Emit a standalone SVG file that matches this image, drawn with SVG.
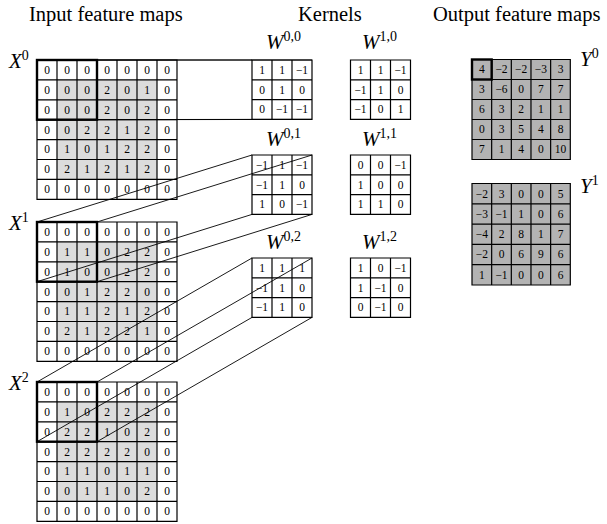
<svg xmlns="http://www.w3.org/2000/svg" xmlns:xlink="http://www.w3.org/1999/xlink" width="607" height="524" viewBox="0 0 607 524">
<style>
text{font-family:"Liberation Serif","Times New Roman",serif;fill:#000}
.t{font-size:20.5px}
.n{font-size:11.5px;text-anchor:middle}
.lab{font-size:21px;font-style:italic}
.sup{font-size:14px;font-style:normal}
.grid{fill:none;stroke:#000;stroke-width:1.2}
.bold{fill:none;stroke:#000;stroke-width:2.4}
.bgw{fill:#fff}
.sh{fill:#dcdcdc}
.out{fill:#b3b3b3}
.con line{stroke:#000;stroke-width:0.9}
</style>
<defs>
<path id="g7" class="grid" d="M0 0H140V139.3H0Z M20 0V139.3 M40 0V139.3 M60 0V139.3 M80 0V139.3 M100 0V139.3 M120 0V139.3 M0 19.9H140 M0 39.8H140 M0 59.7H140 M0 79.6H140 M0 99.5H140 M0 119.4H140"/>
<path id="g3" class="grid" d="M0 0H60V59.4H0Z M20 0V59.4 M40 0V59.4 M0 19.8H60 M0 39.6H60"/>
<path id="g5a" class="grid" d="M0 0H98.3V100H0Z M19.66 0V100 M39.32 0V100 M58.98 0V100 M78.64 0V100 M0 20H98.3 M0 40H98.3 M0 60H98.3 M0 80H98.3"/>
<path id="g5b" class="grid" d="M0 0H98.3V101.5H0Z M19.66 0V101.5 M39.32 0V101.5 M58.98 0V101.5 M78.64 0V101.5 M0 20.3H98.3 M0 40.6H98.3 M0 60.9H98.3 M0 81.2H98.3"/>
</defs>
<rect width="607" height="524" fill="#fff"/>
<g id="titles">
<text class="t" x="29" y="21">Input feature maps</text>
<text class="t" x="298" y="21">Kernels</text>
<text class="t" x="433" y="21">Output feature maps</text>
</g>

<g id="X0">
<rect class="bgw" x="37" y="60" width="140" height="139.3"/>
<rect class="sh" x="57" y="79.9" width="100" height="99.5"/>
<use xlink:href="#g7" x="37" y="60"/>
<rect class="bold" x="37" y="60" width="60" height="59.7"/>
<text class="lab" x="9" y="68">X<tspan class="sup" dy="-8">0</tspan></text>
<text class="n" x="47" y="73.8">0</text><text class="n" x="67" y="73.8">0</text><text class="n" x="87" y="73.8">0</text><text class="n" x="107" y="73.8">0</text><text class="n" x="127" y="73.8">0</text><text class="n" x="147" y="73.8">0</text><text class="n" x="167" y="73.8">0</text>
<text class="n" x="47" y="93.7">0</text><text class="n" x="67" y="93.7">0</text><text class="n" x="87" y="93.7">0</text><text class="n" x="107" y="93.7">2</text><text class="n" x="127" y="93.7">0</text><text class="n" x="147" y="93.7">1</text><text class="n" x="167" y="93.7">0</text>
<text class="n" x="47" y="113.6">0</text><text class="n" x="67" y="113.6">0</text><text class="n" x="87" y="113.6">0</text><text class="n" x="107" y="113.6">2</text><text class="n" x="127" y="113.6">0</text><text class="n" x="147" y="113.6">2</text><text class="n" x="167" y="113.6">0</text>
<text class="n" x="47" y="133.5">0</text><text class="n" x="67" y="133.5">0</text><text class="n" x="87" y="133.5">2</text><text class="n" x="107" y="133.5">2</text><text class="n" x="127" y="133.5">1</text><text class="n" x="147" y="133.5">2</text><text class="n" x="167" y="133.5">0</text>
<text class="n" x="47" y="153.4">0</text><text class="n" x="67" y="153.4">1</text><text class="n" x="87" y="153.4">0</text><text class="n" x="107" y="153.4">1</text><text class="n" x="127" y="153.4">2</text><text class="n" x="147" y="153.4">2</text><text class="n" x="167" y="153.4">0</text>
<text class="n" x="47" y="173.3">0</text><text class="n" x="67" y="173.3">2</text><text class="n" x="87" y="173.3">1</text><text class="n" x="107" y="173.3">2</text><text class="n" x="127" y="173.3">1</text><text class="n" x="147" y="173.3">2</text><text class="n" x="167" y="173.3">0</text>
<text class="n" x="47" y="193.2">0</text><text class="n" x="67" y="193.2">0</text><text class="n" x="87" y="193.2">0</text><text class="n" x="107" y="193.2">0</text><text class="n" x="127" y="193.2">0</text><text class="n" x="147" y="193.2">0</text><text class="n" x="167" y="193.2">0</text>
</g>

<g id="X1">
<rect class="bgw" x="37" y="222" width="140" height="139.3"/>
<rect class="sh" x="57" y="241.9" width="100" height="99.5"/>
<use xlink:href="#g7" x="37" y="222"/>
<rect class="bold" x="37" y="222" width="60" height="59.7"/>
<text class="lab" x="9" y="230">X<tspan class="sup" dy="-8">1</tspan></text>
<text class="n" x="47" y="235.8">0</text><text class="n" x="67" y="235.8">0</text><text class="n" x="87" y="235.8">0</text><text class="n" x="107" y="235.8">0</text><text class="n" x="127" y="235.8">0</text><text class="n" x="147" y="235.8">0</text><text class="n" x="167" y="235.8">0</text>
<text class="n" x="47" y="255.7">0</text><text class="n" x="67" y="255.7">1</text><text class="n" x="87" y="255.7">1</text><text class="n" x="107" y="255.7">0</text><text class="n" x="127" y="255.7">2</text><text class="n" x="147" y="255.7">2</text><text class="n" x="167" y="255.7">0</text>
<text class="n" x="47" y="275.6">0</text><text class="n" x="67" y="275.6">1</text><text class="n" x="87" y="275.6">0</text><text class="n" x="107" y="275.6">0</text><text class="n" x="127" y="275.6">2</text><text class="n" x="147" y="275.6">2</text><text class="n" x="167" y="275.6">0</text>
<text class="n" x="47" y="295.5">0</text><text class="n" x="67" y="295.5">0</text><text class="n" x="87" y="295.5">1</text><text class="n" x="107" y="295.5">2</text><text class="n" x="127" y="295.5">2</text><text class="n" x="147" y="295.5">0</text><text class="n" x="167" y="295.5">0</text>
<text class="n" x="47" y="315.4">0</text><text class="n" x="67" y="315.4">1</text><text class="n" x="87" y="315.4">1</text><text class="n" x="107" y="315.4">2</text><text class="n" x="127" y="315.4">1</text><text class="n" x="147" y="315.4">2</text><text class="n" x="167" y="315.4">0</text>
<text class="n" x="47" y="335.3">0</text><text class="n" x="67" y="335.3">2</text><text class="n" x="87" y="335.3">1</text><text class="n" x="107" y="335.3">2</text><text class="n" x="127" y="335.3">2</text><text class="n" x="147" y="335.3">1</text><text class="n" x="167" y="335.3">0</text>
<text class="n" x="47" y="355.2">0</text><text class="n" x="67" y="355.2">0</text><text class="n" x="87" y="355.2">0</text><text class="n" x="107" y="355.2">0</text><text class="n" x="127" y="355.2">0</text><text class="n" x="147" y="355.2">0</text><text class="n" x="167" y="355.2">0</text>
</g>

<g id="X2">
<rect class="bgw" x="37" y="382" width="140" height="139.3"/>
<rect class="sh" x="57" y="401.9" width="100" height="99.5"/>
<use xlink:href="#g7" x="37" y="382"/>
<rect class="bold" x="37" y="382" width="60" height="59.7"/>
<text class="lab" x="9" y="390">X<tspan class="sup" dy="-8">2</tspan></text>
<text class="n" x="47" y="395.8">0</text><text class="n" x="67" y="395.8">0</text><text class="n" x="87" y="395.8">0</text><text class="n" x="107" y="395.8">0</text><text class="n" x="127" y="395.8">0</text><text class="n" x="147" y="395.8">0</text><text class="n" x="167" y="395.8">0</text>
<text class="n" x="47" y="415.7">0</text><text class="n" x="67" y="415.7">1</text><text class="n" x="87" y="415.7">0</text><text class="n" x="107" y="415.7">2</text><text class="n" x="127" y="415.7">2</text><text class="n" x="147" y="415.7">2</text><text class="n" x="167" y="415.7">0</text>
<text class="n" x="47" y="435.6">0</text><text class="n" x="67" y="435.6">2</text><text class="n" x="87" y="435.6">2</text><text class="n" x="107" y="435.6">1</text><text class="n" x="127" y="435.6">0</text><text class="n" x="147" y="435.6">2</text><text class="n" x="167" y="435.6">0</text>
<text class="n" x="47" y="455.5">0</text><text class="n" x="67" y="455.5">2</text><text class="n" x="87" y="455.5">2</text><text class="n" x="107" y="455.5">2</text><text class="n" x="127" y="455.5">2</text><text class="n" x="147" y="455.5">0</text><text class="n" x="167" y="455.5">0</text>
<text class="n" x="47" y="475.4">0</text><text class="n" x="67" y="475.4">1</text><text class="n" x="87" y="475.4">1</text><text class="n" x="107" y="475.4">0</text><text class="n" x="127" y="475.4">1</text><text class="n" x="147" y="475.4">1</text><text class="n" x="167" y="475.4">0</text>
<text class="n" x="47" y="495.3">0</text><text class="n" x="67" y="495.3">0</text><text class="n" x="87" y="495.3">1</text><text class="n" x="107" y="495.3">1</text><text class="n" x="127" y="495.3">0</text><text class="n" x="147" y="495.3">2</text><text class="n" x="167" y="495.3">0</text>
<text class="n" x="47" y="515.2">0</text><text class="n" x="67" y="515.2">0</text><text class="n" x="87" y="515.2">0</text><text class="n" x="107" y="515.2">0</text><text class="n" x="127" y="515.2">0</text><text class="n" x="147" y="515.2">0</text><text class="n" x="167" y="515.2">0</text>
</g>

<g id="W00">
<rect class="bgw" x="252" y="60" width="60" height="59.4"/>
<use xlink:href="#g3" x="252" y="60"/>
<text class="lab" x="266" y="49">W<tspan class="sup" dy="-8">0,0</tspan></text>
<text class="n" x="262" y="73.7">1</text><text class="n" x="282" y="73.7">1</text><text class="n" x="302" y="73.7">−1</text>
<text class="n" x="262" y="93.5">0</text><text class="n" x="282" y="93.5">1</text><text class="n" x="302" y="93.5">0</text>
<text class="n" x="262" y="113.3">0</text><text class="n" x="282" y="113.3">−1</text><text class="n" x="302" y="113.3">−1</text>
</g>
<g id="W01">
<rect class="bgw" x="252" y="155" width="60" height="59.4"/>
<use xlink:href="#g3" x="252" y="155"/>
<text class="lab" x="266" y="146">W<tspan class="sup" dy="-8">0,1</tspan></text>
<text class="n" x="262" y="168.7">−1</text><text class="n" x="282" y="168.7">1</text><text class="n" x="302" y="168.7">−1</text>
<text class="n" x="262" y="188.5">−1</text><text class="n" x="282" y="188.5">1</text><text class="n" x="302" y="188.5">0</text>
<text class="n" x="262" y="208.3">1</text><text class="n" x="282" y="208.3">0</text><text class="n" x="302" y="208.3">−1</text>
</g>
<g id="W02">
<rect class="bgw" x="252" y="258" width="60" height="59.4"/>
<use xlink:href="#g3" x="252" y="258"/>
<text class="lab" x="266" y="249">W<tspan class="sup" dy="-8">0,2</tspan></text>
<text class="n" x="262" y="271.7">1</text><text class="n" x="282" y="271.7">1</text><text class="n" x="302" y="271.7">1</text>
<text class="n" x="262" y="291.5">−1</text><text class="n" x="282" y="291.5">1</text><text class="n" x="302" y="291.5">0</text>
<text class="n" x="262" y="311.3">−1</text><text class="n" x="282" y="311.3">1</text><text class="n" x="302" y="311.3">0</text>
</g>
<g id="W10">
<rect class="bgw" x="350.5" y="60" width="60" height="59.4"/>
<use xlink:href="#g3" x="350.5" y="60"/>
<text class="lab" x="362" y="49">W<tspan class="sup" dy="-8">1,0</tspan></text>
<text class="n" x="360.5" y="73.7">1</text><text class="n" x="380.5" y="73.7">1</text><text class="n" x="400.5" y="73.7">−1</text>
<text class="n" x="360.5" y="93.5">−1</text><text class="n" x="380.5" y="93.5">1</text><text class="n" x="400.5" y="93.5">0</text>
<text class="n" x="360.5" y="113.3">−1</text><text class="n" x="380.5" y="113.3">0</text><text class="n" x="400.5" y="113.3">1</text>
</g>
<g id="W11">
<rect class="bgw" x="350.5" y="155" width="60" height="59.4"/>
<use xlink:href="#g3" x="350.5" y="155"/>
<text class="lab" x="362" y="146">W<tspan class="sup" dy="-8">1,1</tspan></text>
<text class="n" x="360.5" y="168.7">0</text><text class="n" x="380.5" y="168.7">0</text><text class="n" x="400.5" y="168.7">−1</text>
<text class="n" x="360.5" y="188.5">1</text><text class="n" x="380.5" y="188.5">0</text><text class="n" x="400.5" y="188.5">0</text>
<text class="n" x="360.5" y="208.3">1</text><text class="n" x="380.5" y="208.3">1</text><text class="n" x="400.5" y="208.3">0</text>
</g>
<g id="W12">
<rect class="bgw" x="350.5" y="258" width="60" height="59.4"/>
<use xlink:href="#g3" x="350.5" y="258"/>
<text class="lab" x="362" y="249">W<tspan class="sup" dy="-8">1,2</tspan></text>
<text class="n" x="360.5" y="271.7">1</text><text class="n" x="380.5" y="271.7">0</text><text class="n" x="400.5" y="271.7">−1</text>
<text class="n" x="360.5" y="291.5">1</text><text class="n" x="380.5" y="291.5">−1</text><text class="n" x="400.5" y="291.5">0</text>
<text class="n" x="360.5" y="311.3">0</text><text class="n" x="380.5" y="311.3">−1</text><text class="n" x="400.5" y="311.3">0</text>
</g>

<g id="Y0">
<rect class="out" x="472" y="59.5" width="98.3" height="100"/>
<use xlink:href="#g5a" x="472" y="59.5"/>
<rect class="bold" x="472" y="59.5" width="19.66" height="20"/>
<text class="lab" x="580" y="66">Y<tspan class="sup" dy="-8">0</tspan></text>
<text class="n" x="481.8" y="73.3">4</text><text class="n" x="501.5" y="73.3">−2</text><text class="n" x="521.2" y="73.3">−2</text><text class="n" x="540.8" y="73.3">−3</text><text class="n" x="560.5" y="73.3">3</text>
<text class="n" x="481.8" y="93.3">3</text><text class="n" x="501.5" y="93.3">−6</text><text class="n" x="521.2" y="93.3">0</text><text class="n" x="540.8" y="93.3">7</text><text class="n" x="560.5" y="93.3">7</text>
<text class="n" x="481.8" y="113.3">6</text><text class="n" x="501.5" y="113.3">3</text><text class="n" x="521.2" y="113.3">2</text><text class="n" x="540.8" y="113.3">1</text><text class="n" x="560.5" y="113.3">1</text>
<text class="n" x="481.8" y="133.3">0</text><text class="n" x="501.5" y="133.3">3</text><text class="n" x="521.2" y="133.3">5</text><text class="n" x="540.8" y="133.3">4</text><text class="n" x="560.5" y="133.3">8</text>
<text class="n" x="481.8" y="153.3">7</text><text class="n" x="501.5" y="153.3">1</text><text class="n" x="521.2" y="153.3">4</text><text class="n" x="540.8" y="153.3">0</text><text class="n" x="560.5" y="153.3">10</text>
</g>
<g id="Y1">
<rect class="out" x="472" y="183.5" width="98.3" height="101.5"/>
<use xlink:href="#g5b" x="472" y="183.5"/>
<text class="lab" x="580" y="193">Y<tspan class="sup" dy="-8">1</tspan></text>
<text class="n" x="481.8" y="197.5">−2</text><text class="n" x="501.5" y="197.5">3</text><text class="n" x="521.2" y="197.5">0</text><text class="n" x="540.8" y="197.5">0</text><text class="n" x="560.5" y="197.5">5</text>
<text class="n" x="481.8" y="217.8">−3</text><text class="n" x="501.5" y="217.8">−1</text><text class="n" x="521.2" y="217.8">1</text><text class="n" x="540.8" y="217.8">0</text><text class="n" x="560.5" y="217.8">6</text>
<text class="n" x="481.8" y="238.1">−4</text><text class="n" x="501.5" y="238.1">2</text><text class="n" x="521.2" y="238.1">8</text><text class="n" x="540.8" y="238.1">1</text><text class="n" x="560.5" y="238.1">7</text>
<text class="n" x="481.8" y="258.4">−2</text><text class="n" x="501.5" y="258.4">0</text><text class="n" x="521.2" y="258.4">6</text><text class="n" x="540.8" y="258.4">9</text><text class="n" x="560.5" y="258.4">6</text>
<text class="n" x="481.8" y="278.7">1</text><text class="n" x="501.5" y="278.7">−1</text><text class="n" x="521.2" y="278.7">0</text><text class="n" x="540.8" y="278.7">0</text><text class="n" x="560.5" y="278.7">6</text>
</g>

<g id="connectors" class="con">
<line x1="37" y1="60" x2="252" y2="60"/>
<line x1="97" y1="60" x2="312" y2="60"/>
<line x1="37" y1="119.7" x2="252" y2="119.4"/>
<line x1="97" y1="119.7" x2="312" y2="119.4"/>
<line x1="37" y1="222" x2="252" y2="155"/>
<line x1="97" y1="222" x2="312" y2="155"/>
<line x1="37" y1="281.7" x2="252" y2="214.4"/>
<line x1="97" y1="281.7" x2="312" y2="214.4"/>
<line x1="37" y1="382" x2="252" y2="258"/>
<line x1="97" y1="382" x2="312" y2="258"/>
<line x1="37" y1="441.7" x2="252" y2="317.4"/>
<line x1="97" y1="441.7" x2="312" y2="317.4"/>
</g>
</svg>
